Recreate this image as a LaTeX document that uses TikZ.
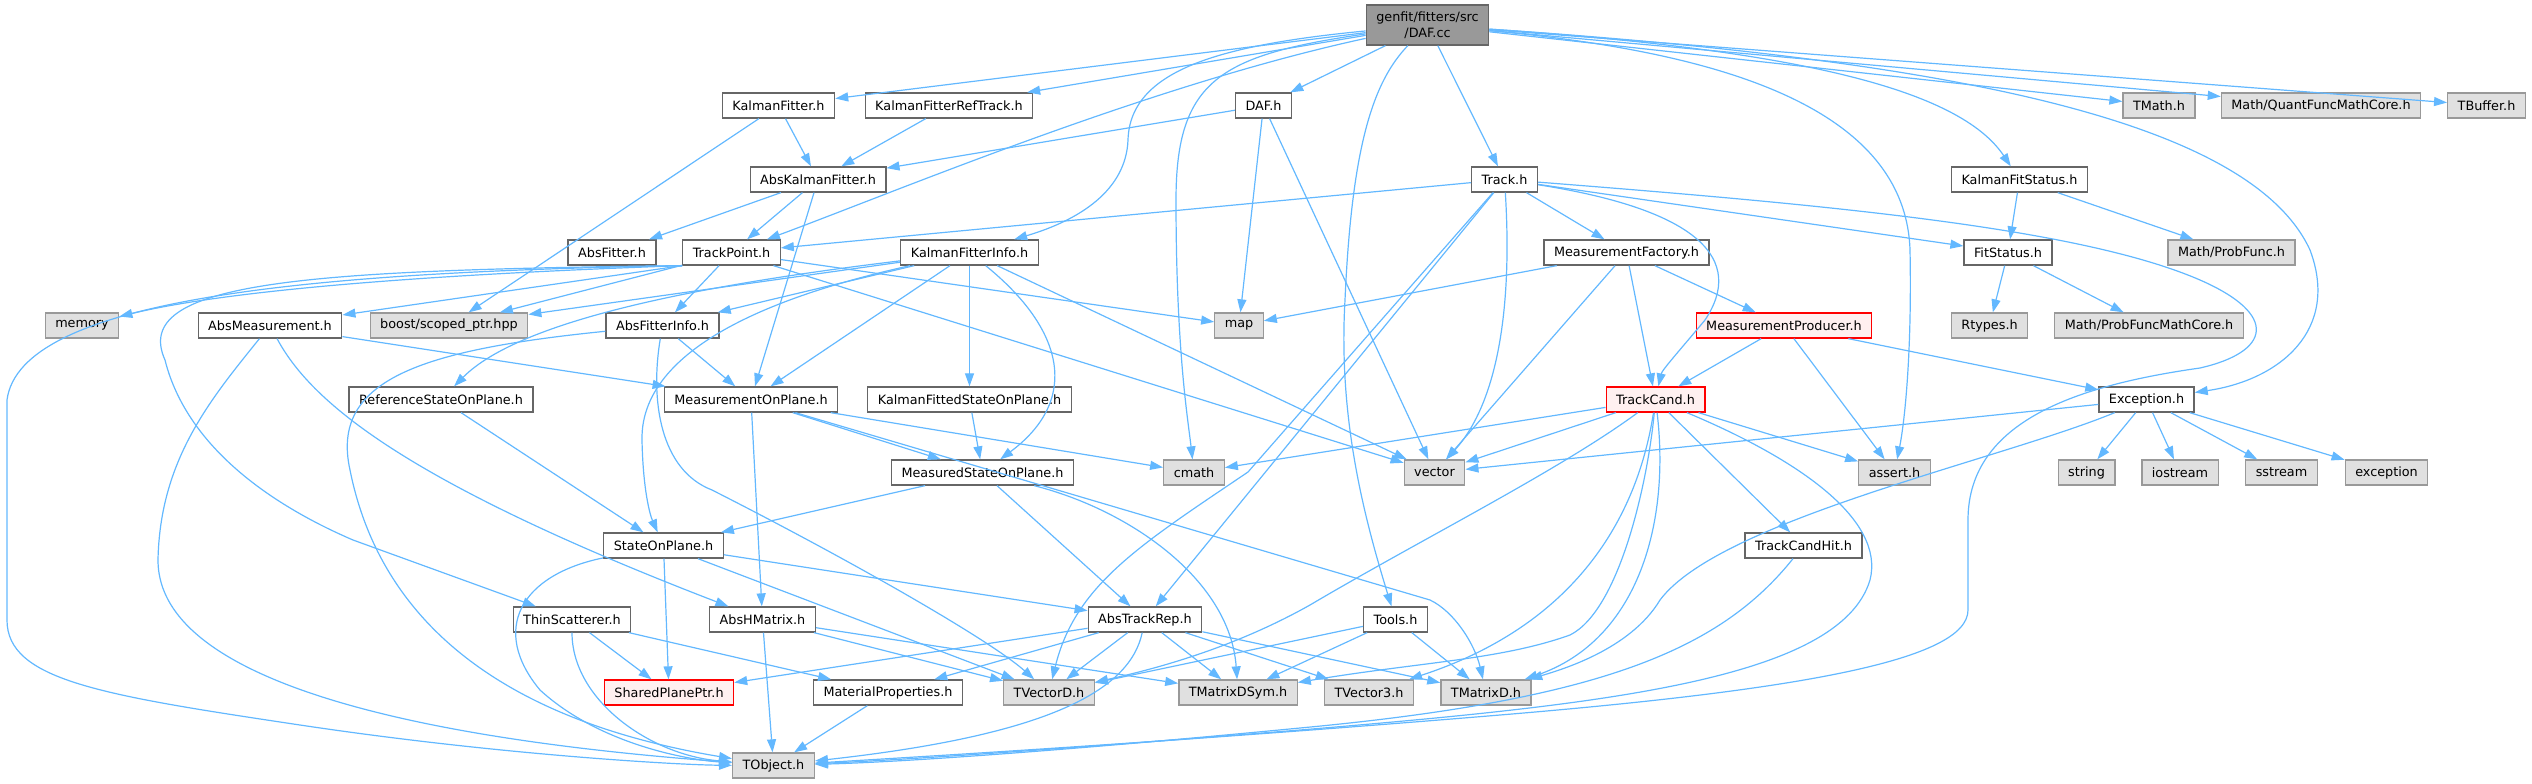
\documentclass[tikz,border=0pt]{standalone}
\usepackage{fontspec}
\setmainfont{DejaVu Sans}
\usetikzlibrary{arrows.meta}
\definecolor{depblue}{HTML}{63B8FF}
\definecolor{hdrline}{HTML}{666666}
\definecolor{sysline}{HTML}{999999}
\definecolor{sysfill}{HTML}{E0E0E0}
\definecolor{rootfill}{HTML}{999999}
\definecolor{truncfill}{HTML}{FFF0F0}

\begin{document}
\begin{tikzpicture} [x=1pt, y=-1pt, semithick,
  box/.style ={rectangle, minimum height=25pt, inner xsep=10pt, inner ysep=0pt, line width=1.3pt, font=\fontsize{12.8}{15.5}\selectfont},
  hdr/.style ={box, draw=hdrline, fill=white},
  sys/.style ={box, draw=sysline, fill=sysfill},
  trunc/.style ={box, draw=red, fill=truncfill},
  root/.style ={box, draw=hdrline, fill=rootfill, align=center, minimum height=40pt},
  dep/.style ={draw=depblue, line width=1.2pt, -{Triangle[length=13pt, width=9pt]}}]
\useasboundingbox (0,0) rectangle (2532,784);
\node[root] (DAFcc) at (1427.5,25) {genfit/fitters/src\\/DAF.cc};
\node[hdr] (KF) at (778.5,105.5) {KalmanFitter.h};
\node[hdr] (KFRT) at (949,105.5) {KalmanFitterRefTrack.h};
\node[hdr] (DAFh) at (1263.5,105.5) {DAF.h};
\node[sys] (TMath) at (2159,105.5) {TMath.h};
\node[sys] (QFMC) at (2321,105.5) {Math/QuantFuncMathCore.h};
\node[sys] (TBuffer) at (2486.5,105.5) {TBuffer.h};
\node[hdr] (AKF) at (818,179.5) {AbsKalmanFitter.h};
\node[hdr] (Track) at (1504.5,179.5) {Track.h};
\node[hdr] (KFS) at (2019.5,179.5) {KalmanFitStatus.h};
\node[hdr] (AbsFitter) at (612,252.5) {AbsFitter.h};
\node[hdr] (TP) at (731.5,252.5) {TrackPoint.h};
\node[hdr] (KFI) at (969.5,252.5) {KalmanFitterInfo.h};
\node[hdr] (MF) at (1626.5,252.5) {MeasurementFactory.h};
\node[hdr] (FitStatus) at (2008,252.5) {FitStatus.h};
\node[sys] (ProbFunc) at (2231.5,252.5) {Math/ProbFunc.h};
\node[sys] (memory) at (82,325.5) {memory};
\node[hdr] (AbsMeas) at (270,325.5) {AbsMeasurement.h};
\node[sys] (boost) at (449,325.5) {boost/scoped\_ptr.hpp};
\node[hdr] (AFI) at (662.5,325.5) {AbsFitterInfo.h};
\node[sys] (map) at (1239,325.5) {map};
\node[trunc] (MP) at (1784,325.5) {MeasurementProducer.h};
\node[sys] (Rtypes) at (1989.5,325.5) {Rtypes.h};
\node[sys] (PFMC) at (2149,325.5) {Math/ProbFuncMathCore.h};
\node[hdr] (RSOP) at (441,399.5) {ReferenceStateOnPlane.h};
\node[hdr] (MOP) at (751,399.5) {MeasurementOnPlane.h};
\node[hdr] (KFSOP) at (969.5,399.5) {KalmanFittedStateOnPlane.h};
\node[trunc] (TrackCand) at (1655.5,399.5) {TrackCand.h};
\node[hdr] (Exception) at (2146.5,399.5) {Exception.h};
\node[hdr] (MSOP) at (982.5,472.5) {MeasuredStateOnPlane.h};
\node[sys] (cmath) at (1194,472.5) {cmath};
\node[sys] (vector) at (1434.5,472.5) {vector};
\node[sys] (assert) at (1894.5,472.5) {assert.h};
\node[sys] (string) at (2086.5,472.5) {string};
\node[sys] (iostream) at (2180,472.5) {iostream};
\node[sys] (sstream) at (2281.5,472.5) {sstream};
\node[sys] (exception) at (2386.5,472.5) {exception};
\node[hdr] (SOP) at (663.5,545.5) {StateOnPlane.h};
\node[hdr] (TCH) at (1803.5,545.5) {TrackCandHit.h};
\node[hdr] (Thin) at (572,619.5) {ThinScatterer.h};
\node[hdr] (AHM) at (762.5,619.5) {AbsHMatrix.h};
\node[hdr] (ATR) at (1145,619.5) {AbsTrackRep.h};
\node[hdr] (Tools) at (1395.5,619.5) {Tools.h};
\node[trunc] (SPP) at (669,692.5) {SharedPlanePtr.h};
\node[hdr] (MatProp) at (888,692.5) {MaterialProperties.h};
\node[sys] (TVectorD) at (1049,692.5) {TVectorD.h};
\node[sys] (TMDS) at (1238,692.5) {TMatrixDSym.h};
\node[sys] (TV3) at (1369,692.5) {TVector3.h};
\node[sys] (TMD) at (1486,692.5) {TMatrixD.h};
\node[sys] (TObject) at (773.5,765.5) {TObject.h};
\path (DAFcc) edge[dep] (KF) edge[dep] (KFRT) edge[dep] (DAFh) edge[dep] (Track) edge[dep] (TMath) edge[dep] (QFMC) edge[dep] (TBuffer);
\draw[dep] (DAFcc) .. controls (1150,85) and (900,190) .. (TP);
\draw[dep] (DAFcc) .. controls (1220,45) and (1130,70) .. (1128,140) .. controls (1126,190) and (1080,220) .. (KFI);
\draw[dep] (DAFcc) .. controls (1220,55) and (1176,80) .. (1176,200) .. controls (1176,350) and (1188,420) .. (cmath);
\draw[dep] (DAFcc) .. controls (1375,80) and (1352,140) .. (1345,300) .. controls (1338,420) and (1365,520) .. (Tools);
\draw[dep] (DAFcc) .. controls (1700,50) and (1905,100) .. (1910,250) .. controls (1912,350) and (1905,420) .. (assert);
\draw[dep] (DAFcc) .. controls (1950,60) and (2250,120) .. (2310,250) .. controls (2340,330) and (2280,380) .. (Exception);
\draw[dep] (DAFcc) .. controls (1800,50) and (1960,90) .. (KFS);
\path (KF) edge[dep] (AKF) edge[dep] (boost);
\path (KFRT) edge[dep] (AKF);
\path (DAFh) edge[dep] (AKF) edge[dep] (map) edge[dep] (vector);
\path (AKF) edge[dep] (AbsFitter) edge[dep] (TP) edge[dep] (MOP);
\path (Track) edge[dep] (TP) edge[dep] (MF) edge[dep] (FitStatus) edge[dep] (ATR);
\draw[dep] (Track) -- (1248,472) .. controls (1140,545) and (1075,585) .. (TVectorD);
\draw[dep] (Track) .. controls (1512,300) and (1500,400) .. (vector);
\draw[dep] (Track) .. controls (1700,210) and (1745,260) .. (1705,320) .. controls (1680,350) and (1662,370) .. (TrackCand);
\draw[dep] (Track) .. controls (1830,205) and (2080,228) .. (2200,280) .. controls (2280,315) and (2270,352) .. (2200,368) .. controls (2080,385) and (1968,420) .. (1968,520) -- (1968,610) .. controls (1968,660) and (1800,690) .. (1500,715) .. controls (1200,740) and (950,755) .. (TObject);
\path (KFS) edge[dep] (FitStatus) edge[dep] (ProbFunc);
\path (TP) edge[dep] (boost) edge[dep] (AFI) edge[dep] (map) edge[dep] (vector);
\path (TP.south west) edge[dep] (AbsMeas);
\draw[dep] (TP.south west) .. controls (500,272) and (250,285) .. (memory);
\draw[dep] (TP.south west) .. controls (300,270) and (130,282) .. (165,360) .. controls (185,440) and (260,500) .. (353,540) -- (Thin);
\draw[dep] (TP.south west) .. controls (300,272) and (20,300) .. (7,400) -- (7,620) .. controls (7,680) and (100,695) .. (300,725) .. controls (500,755) and (680,765) .. (TObject);
\path (KFI) edge[dep] (boost) edge[dep] (AFI) edge[dep] (MOP) edge[dep] (KFSOP) edge[dep] (vector);
\draw[dep] (KFI) .. controls (700,285) and (520,320) .. (RSOP);
\draw[dep] (KFI) .. controls (800,290) and (640,340) .. (642,440) .. controls (643,490) and (650,515) .. (SOP);
\draw[dep] (KFI) .. controls (1065,330) and (1080,400) .. (MSOP);
\path (MF) edge[dep] (map) edge[dep] (MP) edge[dep] (TrackCand) edge[dep] (vector);
\path (FitStatus) edge[dep] (Rtypes) edge[dep] (PFMC);
\path (AbsMeas) edge[dep] (MOP);
\draw[dep] (AbsMeas) .. controls (310,400) and (400,480) .. (AHM);
\draw[dep] (AbsMeas) .. controls (210,400) and (160,460) .. (158,560) .. controls (158,700) and (500,745) .. (TObject);
\path (AFI) edge[dep] (MOP);
\draw[dep] (AFI) .. controls (650,400) and (660,470) .. (712,490) .. controls (850,560) and (990,640) .. (TVectorD);
\draw[dep] (AFI) .. controls (420,350) and (330,380) .. (350,470) .. controls (380,620) and (500,720) .. (TObject);
\path (MP) edge[dep] (TrackCand) edge[dep] (assert) edge[dep] (Exception);
\path (RSOP) edge[dep] (SOP);
\path (MOP) edge[dep] (MSOP) edge[dep] (cmath) edge[dep] (AHM);
\draw[dep] (MOP) -- (1430,600) .. controls (1455,612) and (1475,645) .. (TMD);
\path (KFSOP) edge[dep] (MSOP);
\path (TrackCand) edge[dep] (cmath) edge[dep] (vector) edge[dep] (assert) edge[dep] (TCH);
\draw[dep] (TrackCand) .. controls (1560,470) and (1420,540) .. (1310,605) .. controls (1230,650) and (1150,670) .. (TVectorD);
\draw[dep] (TrackCand) .. controls (1648,480) and (1620,610) .. (1570,635) .. controls (1500,660) and (1420,662) .. (TMDS);
\draw[dep] (TrackCand) .. controls (1640,500) and (1590,620) .. (TV3);
\draw[dep] (TrackCand) .. controls (1670,520) and (1640,640) .. (TMD);
\draw[dep] (TrackCand) .. controls (1800,460) and (1885,520) .. (1870,580) .. controls (1840,680) and (1600,705) .. (1300,730) .. controls (1050,750) and (900,760) .. (TObject);
\path (Exception) edge[dep] (vector) edge[dep] (string) edge[dep] (iostream) edge[dep] (sstream) edge[dep] (exception);
\draw[dep] (Exception) .. controls (2000,460) and (1720,520) .. (1660,600) .. controls (1630,650) and (1560,670) .. (TMD);
\path (MSOP) edge[dep] (SOP) edge[dep] (ATR);
\draw[dep] (MSOP) .. controls (1130,510) and (1230,580) .. (TMDS);
\path (SOP) edge[dep] (ATR) edge[dep] (SPP) edge[dep] (TVectorD);
\draw[dep] (SOP) .. controls (520,575) and (490,630) .. (540,690) .. controls (600,745) and (690,760) .. (TObject);
\draw[dep] (TCH) .. controls (1720,650) and (1600,700) .. (1300,728) .. controls (1050,752) and (900,762) .. (TObject);
\path (Thin) edge[dep] (SPP) edge[dep] (MatProp);
\draw[dep] (Thin) .. controls (572,700) and (650,755) .. (TObject);
\path (AHM) edge[dep] (TObject) edge[dep] (TVectorD) edge[dep] (TMDS);
\path (ATR) edge[dep] (SPP) edge[dep] (MatProp) edge[dep] (TVectorD) edge[dep] (TMDS) edge[dep] (TV3) edge[dep] (TMD);
\draw[dep] (ATR) .. controls (1130,690) and (1050,735) .. (TObject);
\path (Tools) edge[dep] (TVectorD) edge[dep] (TMDS) edge[dep] (TMD);
\path (MatProp) edge[dep] (TObject);
\end{tikzpicture}
\end{document}
